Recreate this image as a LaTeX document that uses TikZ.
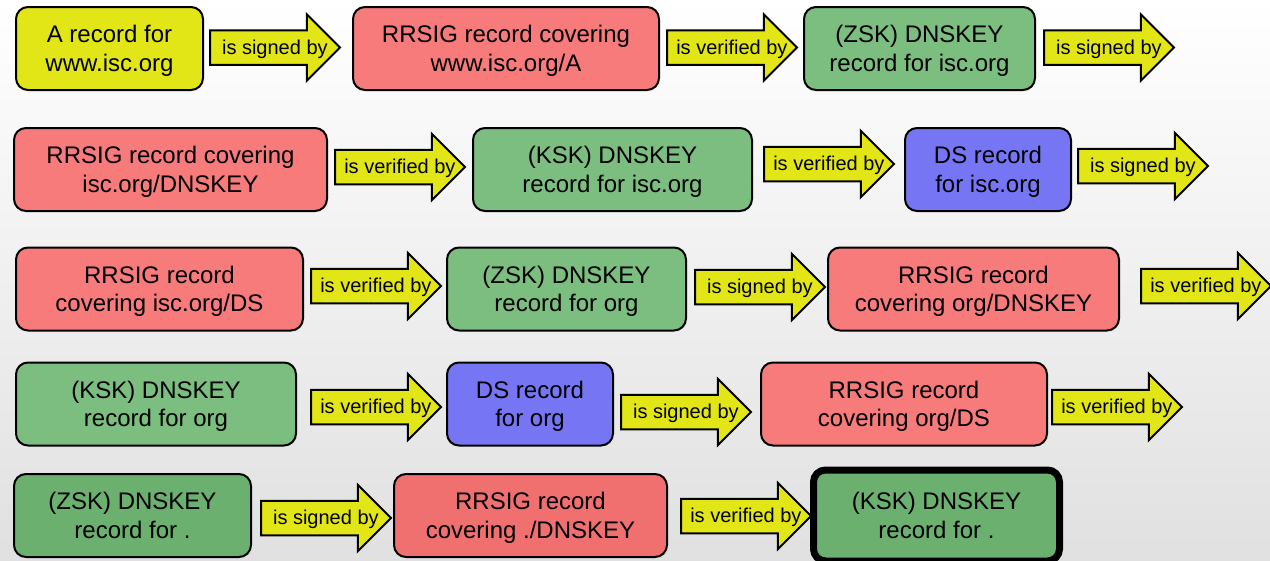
\documentclass[tikz,border=0pt]{standalone}
\usepackage{fontspec}
\setmainfont{Liberation Sans}
\usetikzlibrary{shapes.arrows, positioning}
\definecolor{RecYellow}{RGB}{226,230,22}
\definecolor{SigRed}{RGB}{248,123,123}
\definecolor{SigRedDark}{RGB}{240,112,112}
\definecolor{KeyGreen}{RGB}{124,190,127}
\definecolor{KeyGreenDark}{RGB}{108,176,112}
\definecolor{DsBlue}{RGB}{118,118,245}
\tikzset{
  record/.style={draw, line width=2pt, rounded corners=12pt, align=center, inner sep=0pt,
    minimum height=83pt, text depth=0pt, font=\fontsize{24}{28.5}\selectfont},
  link/.style={single arrow, draw, line width=2pt, fill=RecYellow, single arrow head extend=16pt,
    single arrow tip angle=90, minimum height=130pt, inner xsep=0pt, inner ysep=7pt,
    text height=14pt, text depth=4.5pt, anchor=tail,
    label={[font=\fontsize{20}{24}\selectfont, xshift=8.5pt, yshift=-1.5pt]center:#1}}
}
\begin{document}
\begin{tikzpicture}[x=1pt, y=-1pt]
\useasboundingbox (0,0) rectangle (1270,560);
\shade[top color=white, bottom color=black!12] (0,0) rectangle (1270,560);
% row 1
\node[record, fill=RecYellow, minimum width=187pt] (a1) at (109.5,48.5) {A record for\\www.isc.org};
\node[link=is signed by] (l11) at (209,47.5) {};
\node[record, fill=SigRed, minimum width=306pt] (r1) at (506,48.5) {RRSIG record covering\\www.isc.org/A};
\node[link=is verified by] (l12) at (666,47.5) {};
\node[record, fill=KeyGreen, minimum width=231pt] (z1) at (919.5,48.5) {(ZSK) DNSKEY\\record for isc.org};
\node[link=is signed by] (l13) at (1043,47.5) {};
% row 2
\node[record, fill=SigRed, minimum width=313pt] (r2) at (170.5,169.5) {RRSIG record covering\\isc.org/DNSKEY};
\node[link=is verified by] (l21) at (334,167) {};
\node[record, fill=KeyGreen, minimum width=279pt] (k2) at (612.5,169.5) {(KSK) DNSKEY\\record for isc.org};
\node[link=is verified by] (l22) at (763,164) {};
\node[record, fill=DsBlue, minimum width=166pt] (d2) at (988,169.5) {DS record\\for isc.org};
\node[link=is signed by] (l23) at (1077,166) {};
% row 3
\node[record, fill=SigRed, minimum width=287pt] (r3) at (159.5,289) {RRSIG record\\covering isc.org/DS};
\node[link=is verified by] (l31) at (310,286) {};
\node[record, fill=KeyGreen, minimum width=239pt] (z3) at (566.5,289) {(ZSK) DNSKEY\\record for org};
\node[link=is signed by] (l32) at (694,287) {};
\node[record, fill=SigRed, minimum width=291pt] (s3) at (973.5,289) {RRSIG record\\covering org/DNSKEY};
\node[link=is verified by] (l33) at (1140,286) {};
% row 4
\node[record, fill=KeyGreen, minimum width=280pt] (k4) at (156,404) {(KSK) DNSKEY\\record for org};
\node[link=is verified by] (l41) at (310,407) {};
\node[record, fill=DsBlue, minimum width=166pt] (d4) at (530,404) {DS record\\for org};
\node[link=is signed by] (l42) at (620,412) {};
\node[record, fill=SigRed, minimum width=286pt] (r4) at (904,404) {RRSIG record\\covering org/DS};
\node[link=is verified by] (l43) at (1051,407) {};
% row 5
\node[record, fill=KeyGreenDark, minimum width=237pt] (z5) at (132.5,515.5) {(ZSK) DNSKEY\\record for .};
\node[link=is signed by] (l51) at (260,518) {};
\node[record, fill=SigRedDark, minimum width=273pt] (r5) at (530.5,515.5) {RRSIG record\\covering ./DNSKEY};
\node[link=is verified by] (l52) at (680,516) {};
\node[record, fill=KeyGreenDark, line width=7pt, minimum width=246pt, minimum height=91pt] (k5) at (936.5,515.5) {(KSK) DNSKEY\\record for .};
\end{tikzpicture}
\end{document}
